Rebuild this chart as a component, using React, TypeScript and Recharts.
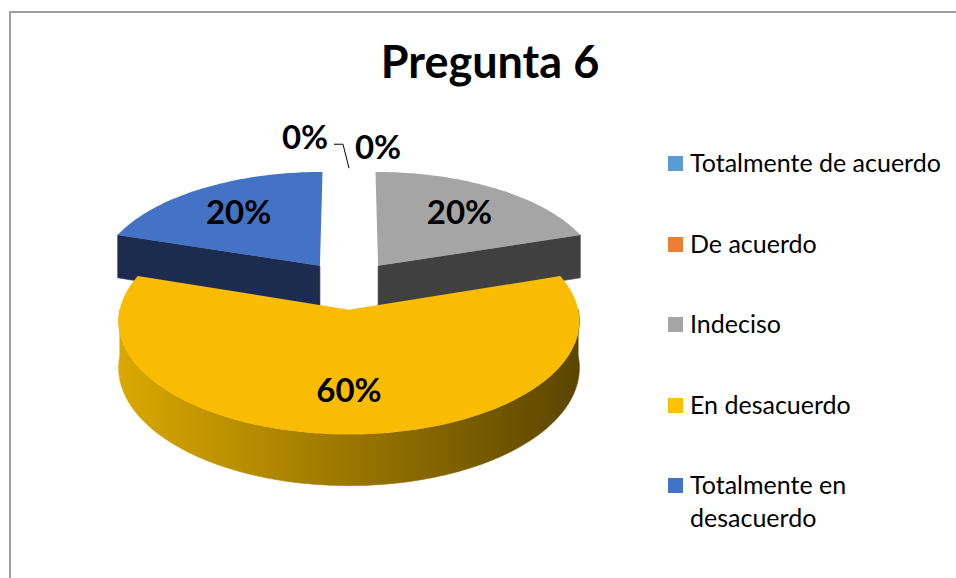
import React from 'react';
import { PieChart, Pie, Legend } from 'recharts';

// ---------- data ----------
const TITLE = 'Pregunta 6';
const CATEGORIES = [
  'Totalmente de acuerdo',
  'De acuerdo',
  'Indeciso',
  'En desacuerdo',
  'Totalmente en desacuerdo',
];
const VALUES = [0, 0, 20, 60, 20];

// ---------- colours ----------
const LEGEND_COLORS = ['#5B9BD5', '#ED7D31', '#A5A5A5', '#FFC000', '#4472C4'];
const TOP_COLORS = ['#5B9BD5', '#ED7D31', '#A5A5A5', '#F9BC00', '#4472C4'];
const SIDE_LIGHT = ['#2E4D6B', '#7A3E18', '#404040', '#DAA800', '#1C2C4F'];
const SIDE_DARK = ['#2E4D6B', '#7A3E18', '#404040', '#5B4500', '#1C2C4F'];

const FONT = 'Lato, "Open Sans", sans-serif';

// ---------- 3D projection settings ----------
const PERSP = 0.1;
const TILT = 107 / 224;
const EXPLODE = 0.225;
const DEPTH = 45;
const LABEL_R = 0.675;
const RAD = Math.PI / 180;

const chartData = CATEGORIES.map((name, i) => ({ name, value: VALUES[i] }));

type Pt = [number, number];

function makeProjector(p: any) {
  const { cx, cy, outerRadius: r, startAngle, endAngle } = p;
  const mid = p.midAngle ?? (startAngle + endAngle) / 2;
  const ox = EXPLODE * Math.cos(mid * RAD);
  const oz = -EXPLODE * Math.sin(mid * RAD);
  return (a: number, rr: number, h: number): Pt => {
    const X = ox + rr * Math.cos(a * RAD);
    const Z = oz - rr * Math.sin(a * RAD);
    const s = 1 / (1 - PERSP * Z);
    return [cx + X * r * s, cy + (Z * r * TILT + h) * s];
  };
}

function arcPts(pt: (a: number, rr: number, h: number) => Pt, a0: number, a1: number, h: number): Pt[] {
  const n = Math.max(2, Math.ceil(Math.abs(a1 - a0) / 1.5));
  const out: Pt[] = [];
  for (let i = 0; i <= n; i++) out.push(pt(a0 + ((a1 - a0) * i) / n, 1, h));
  return out;
}

const toPath = (pts: Pt[]) =>
  'M' + pts.map((q) => q[0].toFixed(2) + ',' + q[1].toFixed(2)).join('L') + 'Z';

const idxOf = (p: any) => CATEGORIES.indexOf(p?.payload?.name ?? p?.name);

function TopShape(props: any) {
  const { startAngle, endAngle } = props;
  if (Math.abs(startAngle - endAngle) < 1e-6) return null;
  const idx = idxOf(props);
  const pt = makeProjector(props);
  const pts = [pt(0, 0, 0), ...arcPts(pt, startAngle, endAngle, 0)];
  return <path d={toPath(pts)} fill={TOP_COLORS[idx]} stroke="none" />;
}

function WallShape(props: any) {
  const { startAngle, endAngle, cx, outerRadius } = props;
  if (Math.abs(startAngle - endAngle) < 1e-6) return null;
  const idx = idxOf(props);
  const pt = makeProjector(props);
  const hi0 = Math.max(startAngle, endAngle);
  const lo0 = Math.min(startAngle, endAngle);
  const walls: Pt[][] = [];
  if (Math.cos(hi0 * RAD) < -1e-6) {
    walls.push([pt(hi0, 0, 0), pt(hi0, 1, 0), pt(hi0, 1, DEPTH), pt(hi0, 0, DEPTH)]);
  }
  if (Math.cos(lo0 * RAD) > 1e-6) {
    walls.push([pt(lo0, 0, 0), pt(lo0, 1, 0), pt(lo0, 1, DEPTH), pt(lo0, 0, DEPTH)]);
  }
  for (const k of [-2, -1, 0, 1]) {
    const lo = Math.max(lo0, -180 + 360 * k);
    const hi = Math.min(hi0, 360 * k);
    if (hi - lo > 1e-6) {
      const top = arcPts(pt, hi, lo, 0);
      const bot = arcPts(pt, lo, hi, DEPTH);
      walls.push([...top, ...bot]);
    }
  }
  const gid = `side-grad-${idx}`;
  return (
    <g>
      <defs>
        <linearGradient id={gid} gradientUnits="userSpaceOnUse" x1={cx - outerRadius * 1.03} y1={0} x2={cx + outerRadius * 1.03} y2={0}>
          <stop offset="0" stopColor={SIDE_LIGHT[idx]} />
          <stop offset="1" stopColor={SIDE_DARK[idx]} />
        </linearGradient>
      </defs>
      {walls.map((w, i) => (
        <path key={i} d={toPath(w)} fill={`url(#${gid})`} stroke={`url(#${gid})`} strokeWidth={0.6} />
      ))}
    </g>
  );
}

function renderLabel(p: any) {
  const pt = makeProjector(p);
  const mid = p.midAngle ?? (p.startAngle + p.endAngle) / 2;
  const text = `${Math.round((p.percent ?? 0) * 100)}%`;
  const style = { fontFamily: FONT, fontWeight: 700, fontSize: 33 } as const;
  if ((p.value ?? 0) > 0) {
    const [x, y] = pt(mid, LABEL_R, 0);
    return (
      <text key={`l${p.index}`} x={x} y={y} dy="0.35em" textAnchor="middle" fill="#000" style={style}>
        {text}
      </text>
    );
  }
  const [ax, ay] = pt(mid, 1, 0);
  if ((p.index ?? 0) % 2 === 0) {
    return (
      <g key={`l${p.index}`}>
        <polyline points={`${ax},${ay} ${ax - 6},${ay - 24} ${ax - 15},${ay - 24}`} fill="none" stroke="#000" strokeWidth={1} />
        <text x={ax - 44} y={ay - 31} dy="0.35em" textAnchor="middle" fill="#000" style={style}>
          {text}
        </text>
      </g>
    );
  }
  return (
    <text key={`l${p.index}`} x={ax + 29} y={ay - 21} dy="0.35em" textAnchor="middle" fill="#000" style={style}>
      {text}
    </text>
  );
}

function renderLegend(props: any) {
  const raw: any[] = props?.payload && props.payload.length ? props.payload : CATEGORIES.map((c) => ({ value: c }));
  const seen = new Set<string>();
  const items = raw
    .filter((it) => {
      if (seen.has(it.value)) return false;
      seen.add(it.value);
      return CATEGORIES.includes(it.value);
    })
    .sort((a, b) => CATEGORIES.indexOf(a.value) - CATEGORIES.indexOf(b.value));
  return (
    <div style={{ position: 'relative', width: 288, height: 400, fontFamily: FONT }}>
      {items.map((it: any, i: number) => {
        const idx = CATEGORIES.indexOf(it.value);
        return (
          <div key={i} style={{ position: 'absolute', left: 0, top: i * 80.6 }}>
            <div style={{ position: 'absolute', left: 0, top: 0, width: 15, height: 15, background: LEGEND_COLORS[idx] }} />
            <div
              style={{
                position: 'absolute',
                left: 22,
                top: -10,
                width: 262,
                fontSize: 25,
                lineHeight: '33px',
                color: '#000',
                whiteSpace: 'normal',
              }}
            >
              {it.value}
            </div>
          </div>
        );
      })}
    </div>
  );
}

export default function App() {
  return (
    <div style={{ position: 'absolute', left: 0, top: 0, width: 956, height: 578, background: '#fff', overflow: 'hidden' }}>
      <svg width={956} height={578} style={{ position: 'absolute', left: 0, top: 0 }}>
        <rect x={10} y={12} width={1000} height={1000} fill="#fff" stroke="#A0A0A0" strokeWidth={2} />
        <text x={490} y={78} textAnchor="middle" fill="#000" style={{ fontFamily: FONT, fontWeight: 700, fontSize: 45 }}>
          {TITLE}
        </text>
      </svg>
      <div style={{ position: 'absolute', left: 0, top: 0 }}>
        <PieChart width={956} height={578} margin={{ top: 0, right: 0, bottom: 0, left: 0 }}>
          <Pie
            data={chartData}
            dataKey="value"
            nameKey="name"
            cx={349}
            cy={285}
            outerRadius={224}
            startAngle={90}
            endAngle={-270}
            isAnimationActive={false}
            legendType="none"
            label={false}
            labelLine={false}
            shape={WallShape}
          />
          <Pie
            data={chartData}
            dataKey="value"
            nameKey="name"
            cx={349}
            cy={285}
            outerRadius={224}
            startAngle={90}
            endAngle={-270}
            isAnimationActive={false}
            legendType="square"
            label={renderLabel}
            labelLine={false}
            shape={TopShape}
          />
          <Legend
            layout="vertical"
            align="right"
            verticalAlign="top"
            content={renderLegend}
            wrapperStyle={{ left: 668, top: 156, right: 'auto', width: 288 }}
          />
        </PieChart>
      </div>
    </div>
  );
}
